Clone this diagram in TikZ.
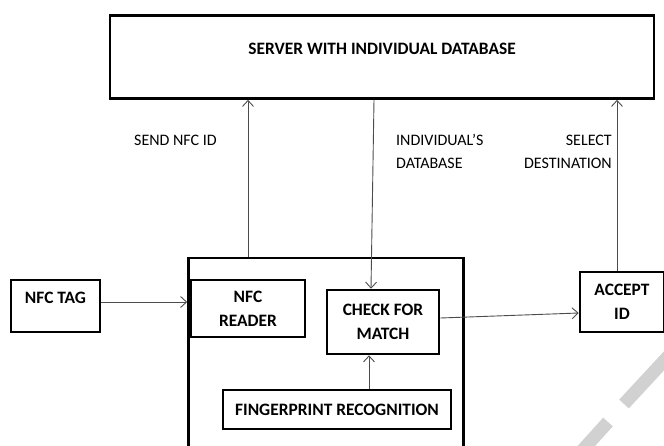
\documentclass[tikz,border=0pt]{standalone}
\usepackage{fontspec}
\setmainfont{Carlito}
\usetikzlibrary{arrows.meta}
\begin{document}
\begin{tikzpicture}[x=1pt,y=-1pt,
  box/.style={draw, line width=2.6pt, inner sep=0pt, align=center,
    font=\fontsize{17.4}{24}\selectfont\bfseries},
  btext/.style={inner sep=0pt, font=\fontsize{17.4}{24}\selectfont\bfseries},
  conn/.style={draw=black!70, line width=0.9pt, -{Straight Barb[length=6pt,width=11pt]}},
  lbl/.style={inner sep=0pt, font=\fontsize{16}{23}\selectfont},
  wm/.style={draw=black!18, line width=13pt}]
\clip (0,0) rectangle (664,445);
% watermark
\draw[wm] (624,404) -- (700,322);
\draw[wm] (608,422) -- (570,464);
% outer container
\node[draw, line width=2.6pt, minimum width=275pt, minimum height=220pt, inner sep=0pt] (outer) at (326,368) {};
% boxes
\node[box, minimum width=544pt, minimum height=83pt] (srv) at (382,57) {};
\node[btext] (srvT) at ([yshift=8.5pt]srv.center) {SERVER WITH INDIVIDUAL DATABASE};
\node[box, minimum width=89pt, minimum height=52pt] (tag) at (55.5,306) {};
\node[btext] (tagT) at ([yshift=8pt]tag.center) {NFC TAG};
\node[box, minimum width=114pt, minimum height=57pt] (reader) at (248,308.5) {NFC\\READER};
\node[box, minimum width=112pt, minimum height=64pt] (chk) at (383,322) {CHECK FOR\\MATCH};
\node[box, minimum width=84pt, minimum height=60pt] (acc) at (622,302) {ACCEPT\\ID};
\node[box, minimum width=228pt, minimum height=39pt] (fp) at (337,409.5) {FINGERPRINT RECOGNITION};
% labels
\node[lbl, anchor=west] (l1) at (134,140) {SEND NFC ID};
\node[lbl, anchor=west, align=left] (l2) at (396,151.5) {INDIVIDUAL’S\\DATABASE};
\node[lbl, anchor=east, align=right] (l3) at (612,151.5) {SELECT\\DESTINATION};
% connectors
\draw[conn] ([yshift=4pt]tag.east) -- ([yshift=4pt]tag.east -| outer.west);
\draw[conn] (reader.north |- outer.north) -- (reader.north |- srv.south);
\draw[conn] ([xshift=-9pt]chk.north |- srv.south) -- ([xshift=-12pt]chk.north);
\draw[conn] ([xshift=-14pt]chk.south |- fp.north) -- ([xshift=-14pt]chk.south);
\draw[conn] ([yshift=4pt]chk.east) -- ([yshift=-11pt]acc.west);
\draw[conn] ([xshift=-5pt]acc.north) -- ([xshift=-5pt]acc.north |- srv.south);
\end{tikzpicture}
\end{document}
